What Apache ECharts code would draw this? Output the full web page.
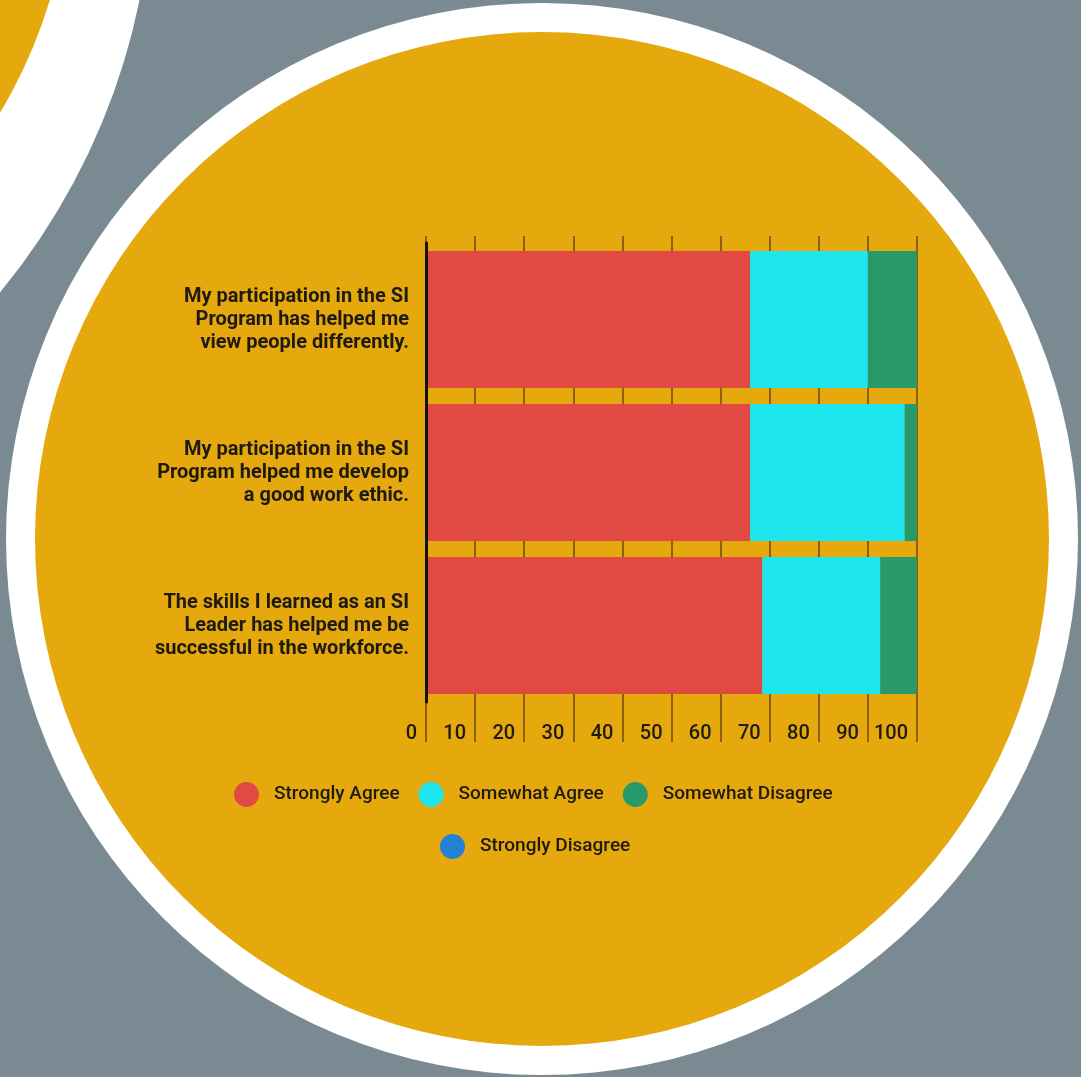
<!DOCTYPE html>
<html>
<head>
<meta charset="utf-8">
<script src="https://cdn.jsdelivr.net/npm/echarts@6/dist/echarts.min.js"></script>
<style>
html,body{margin:0;padding:0;background:#798a93;}
#chart{width:1081px;height:1077px;}
</style>
</head>
<body>
<div id="chart"></div>
<script>
const categories = [
  "My participation in the SI\nProgram has helped me\nview people differently.",
  "My participation in the SI\nProgram helped me develop\na good work ethic.",
  "The skills I learned as an SI\nLeader has helped me be\nsuccessful in the workforce."
];
const seriesNames = ["Strongly Agree", "Somewhat Agree", "Somewhat Disagree", "Strongly Disagree"];
const stronglyAgree = [66, 66, 68.5];
const somewhatAgree = [24, 31.5, 24];
const somewhatDisagree = [10, 2.5, 7.5];
const stronglyDisagree = [0, 0, 0];
const tickMin = 0, tickMax = 100, tickStep = 10;

const colors = ["#e04a42", "#1ee6ee", "#27996a", "#2481d6"];
const values = [stronglyAgree, somewhatAgree, somewhatDisagree, stronglyDisagree];
const FONT = "Roboto";
const textColor = '#1e1a10';
const tickColor = "rgba(70,40,0,0.75)";

const chart = echarts.init(document.getElementById('chart'), null, {renderer: 'canvas'});

const legendText = {fontFamily: FONT, fontSize: 19, fontWeight: 500, color: textColor, padding: [0, 0, 0, 10]};

const option = {
  backgroundColor: '#798a93',
  animation: false,
  graphic: [
    {type: 'circle', z: -10, shape: {cx: -516, cy: -133.5, r: 669}, style: {fill: '#ffffff'}},
    {type: 'circle', z: -10, shape: {cx: -427, cy: -143.5, r: 498}, style: {fill: '#e5a90e'}},
    {type: 'circle', z: -10, shape: {cx: 542, cy: 539, r: 536}, style: {fill: '#ffffff'}},
    {type: 'circle', z: -10, shape: {cx: 542, cy: 539, r: 507}, style: {fill: '#e5a90e'}}
  ],
  grid: {left: 426, right: 164, top: 243, height: 459, containLabel: false},
  legend: [
    {
      data: seriesNames.slice(0, 3),
      left: 234, top: 782, padding: 0,
      icon: 'circle', itemWidth: 25, itemHeight: 25, itemGap: 19,
      textStyle: legendText
    },
    {
      data: seriesNames.slice(3),
      left: 440, top: 834, padding: 0,
      icon: 'circle', itemWidth: 25, itemHeight: 25,
      textStyle: legendText
    }
  ],
  xAxis: [
    {
      type: 'value', position: 'bottom', min: tickMin, max: tickMax, interval: tickStep,
      axisLine: {show: false},
      axisTick: {show: true, inside: false, length: 40, lineStyle: {color: tickColor, width: 1.5}},
      splitLine: {show: true, lineStyle: {color: tickColor, width: 1.5}},
      axisLabel: {
        show: true, margin: 22, align: 'right', padding: [0, 9, 0, 0],
        fontFamily: FONT, fontSize: 20, fontWeight: 500, color: textColor
      }
    },
    {
      type: 'value', position: 'top', min: tickMin, max: tickMax, interval: tickStep,
      axisLine: {show: false},
      axisTick: {show: true, inside: false, length: 7, lineStyle: {color: tickColor, width: 1.5}},
      splitLine: {show: false},
      axisLabel: {show: false}
    }
  ],
  yAxis: {
    type: 'category', inverse: true, data: categories,
    axisLine: {show: true, lineStyle: {color: '#111', width: 3}},
    axisTick: {show: false},
    axisLabel: {
      margin: 17, align: 'right', lineHeight: 23,
      fontFamily: FONT, fontSize: 20, fontWeight: 'bold', color: textColor
    },
    z: 5
  },
  series: seriesNames.map((name, i) => ({
    name: name, type: 'bar', stack: 'total', xAxisIndex: 0,
    barWidth: 137, data: values[i],
    itemStyle: {color: colors[i]},
    emphasis: {disabled: true}
  }))
};
chart.setOption(option);
</script>
</body>
</html>
